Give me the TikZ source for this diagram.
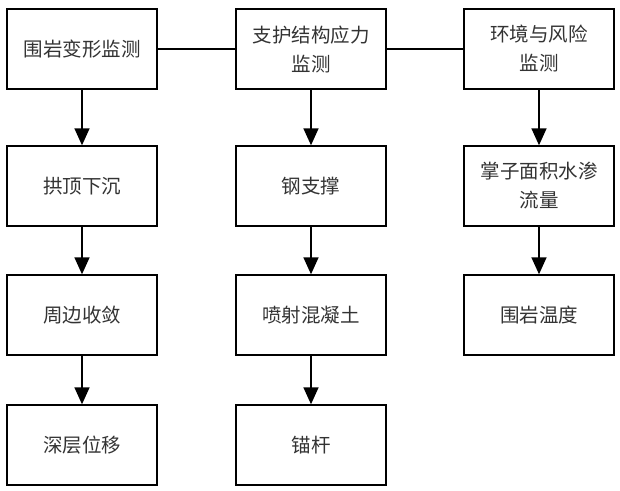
\documentclass[tikz,border=0pt]{standalone}
\usepackage{fontspec}
\newfontfamily\cjk{Noto Sans CJK SC}
\usetikzlibrary{arrows.meta}

\begin{document}
\begin{tikzpicture}[x=1pt, y=-1pt,
    scatola/.style={draw=black, line width=1.4pt, minimum width=150pt, minimum height=80pt,
        align=center, font=\cjk\fontsize{19.5}{29}\selectfont, text=black!80},
    freccia/.style={line width=1.6pt, -{Triangle[width=15pt,length=17pt]}},
    linea/.style={line width=1.6pt}]
    \useasboundingbox (0,0) rectangle (620,490);

    % prima riga
    \node[scatola] (deform) at (82,49) {围岩变形监测};
    \node[scatola] (strutt) at (311,49) {支护结构应力\\监测};
    \node[scatola] (ambien) at (539,49) {环境与风险\\监测};

    % colonna 1
    \node[scatola] (volta) at (82,186) {拱顶下沉};
    \node[scatola] (conve) at (82,315) {周边收敛};
    \node[scatola] (profo) at (82,445) {深层位移};

    % colonna 2
    \node[scatola] (acciaio) at (311,186) {钢支撑};
    \node[scatola] (spritz) at (311,315) {喷射混凝土};
    \node[scatola] (ancora) at (311,445) {锚杆};

    % colonna 3
    \node[scatola] (acqua) at (539,186) {掌子面积水渗\\流量};
    \node[scatola] (temper) at (539,315) {围岩温度};

    \draw[linea] (deform) -- (strutt);
    \draw[linea] (strutt) -- (ambien);

    \draw[freccia] (deform) -- (volta);
    \draw[freccia] (volta) -- (conve);
    \draw[freccia] (conve) -- (profo);
    \draw[freccia] (strutt) -- (acciaio);
    \draw[freccia] (acciaio) -- (spritz);
    \draw[freccia] (spritz) -- (ancora);
    \draw[freccia] (ambien) -- (acqua);
    \draw[freccia] (acqua) -- (temper);
\end{tikzpicture}
\end{document}
